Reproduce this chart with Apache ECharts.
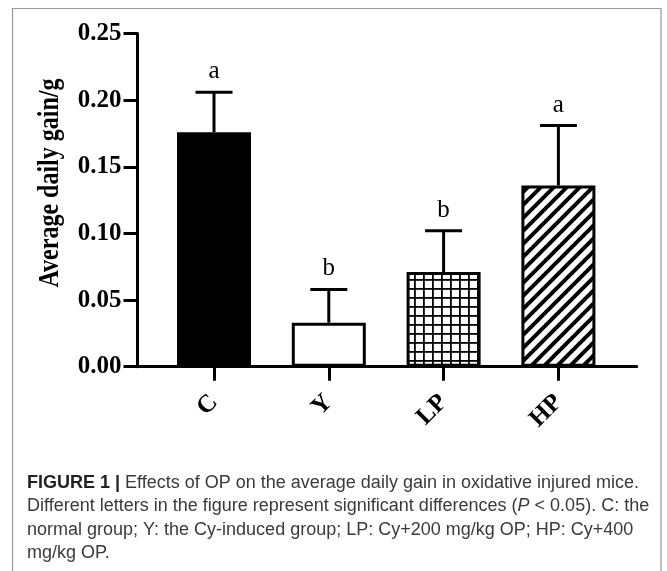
<!DOCTYPE html>
<html>
<head>
<meta charset="utf-8">
<script src="https://cdn.jsdelivr.net/npm/echarts@6/dist/echarts.min.js"></script>
<style>
html,body{margin:0;padding:0;background:#fff;}
#c{width:667px;height:571px;}
</style>
</head>
<body>
<div id="c"></div>
<script>
// ---- data ----
const categories = ['C', 'Y', 'LP', 'HP'];
const means = [0.176, 0.033, 0.071, 0.136];
const sds = [0.030, 0.025, 0.031, 0.045];
const letters = ['a', 'b', 'b', 'a'];
const yMin = 0, yMax = 0.25, yStep = 0.05;
const yTitle = 'Average daily gain/g';
const captionLines = [
  '{b|FIGURE 1 |} Effects of OP on the average daily gain in oxidative injured mice.',
  'Different letters in the figure represent significant differences ({i|P} < 0.05). C: the',
  'normal group; Y: the Cy-induced group; LP: Cy+200 mg/kg OP; HP: Cy+400',
  'mg/kg OP.'
];

// ---- patterns ----
function stripePattern() {
  const s = 13;
  const c = document.createElement('canvas');
  c.width = s; c.height = s;
  const g = c.getContext('2d');
  g.fillStyle = '#fff'; g.fillRect(0, 0, s, s);
  g.strokeStyle = '#000'; g.lineWidth = 4;
  for (const o of [-s, 0, s]) {
    g.beginPath(); g.moveTo(o - 1, s + 1); g.lineTo(o + s + 1, -1); g.stroke();
  }
  return c;
}
function gridPattern() {
  const s = 9;
  const c = document.createElement('canvas');
  c.width = s; c.height = s;
  const g = c.getContext('2d');
  g.fillStyle = '#fff'; g.fillRect(0, 0, s, s);
  g.fillStyle = '#000';
  g.fillRect(0, 0, 1.8, s);
  g.fillRect(0, 0, s, 1.8);
  return c;
}
const fills = [
  '#000',
  '#fff',
  { image: gridPattern(), repeat: 'repeat' },
  { image: stripePattern(), repeat: 'repeat' }
];

const serif = '"Liberation Serif", "Times New Roman", serif';
const sans = '"Liberation Sans", Arial, sans-serif';
const chart = echarts.init(document.getElementById('c'));

const option = {
  backgroundColor: '#fff',
  animation: false,
  grid: [
    { left: 137.5, right: 30.3, top: 33.5, bottom: 204.3 },
    { left: 156.6, width: 459.2, top: 33.5, bottom: 204.3 }
  ],
  xAxis: [
    {
      gridIndex: 0, type: 'value', min: 0, max: 1,
      axisLine: { show: true, lineStyle: { color: '#000', width: 3 } },
      axisTick: { show: false }, axisLabel: { show: false }, splitLine: { show: false }
    },
    {
      gridIndex: 1, type: 'category', data: categories,
      axisLine: { show: false },
      axisTick: { show: true, alignWithLabel: true, length: 14, lineStyle: { color: '#000', width: 3 } },
      axisLabel: { rotate: 45, margin: 32, color: '#000', fontSize: 25, fontWeight: 'bold', fontFamily: serif }
    }
  ],
  yAxis: [
    {
      gridIndex: 0, type: 'value', min: yMin, max: yMax, interval: yStep,
      axisLine: { show: true, lineStyle: { color: '#000', width: 3 } },
      axisTick: { show: true, length: 14, lineStyle: { color: '#000', width: 3 } },
      axisLabel: {
        margin: 16, color: '#000', fontSize: 25, fontWeight: 'bold', fontFamily: serif,
        formatter: v => v.toFixed(2)
      },
      splitLine: { show: false }
    },
    {
      gridIndex: 1, type: 'value', min: yMin, max: yMax, interval: yStep, show: false
    }
  ],
  graphic: [
    {
      type: 'rect', silent: true, z: -1,
      shape: { x: 12.5, y: 8.5, width: 648.5, height: 620 },
      style: { fill: 'none', stroke: '#999', lineWidth: 1.2 }
    },
    {
      type: 'text', x: 51, y: 183, rotation: Math.PI / 2, scaleY: 1.2,
      style: {
        text: yTitle, x: 0, y: 0, align: 'center', verticalAlign: 'middle',
        font: 'bold 24px ' + serif, fill: '#000'
      }
    }
  ].concat(captionLines.map((t, k) => ({
    type: 'text', x: 27, y: 483 + k * 23.4,
    style: {
      text: t, x: 0, y: 0, align: 'left', verticalAlign: 'middle',
      fontSize: 18, fontFamily: sans, fill: '#3a3a3a',
      rich: {
        b: { fontSize: 18, fontWeight: 'bold', fontFamily: sans, fill: '#222' },
        i: { fontSize: 18, fontStyle: 'italic', fontFamily: sans, fill: '#3a3a3a' }
      }
    }
  }))),
  series: [
    {
      type: 'bar', xAxisIndex: 1, yAxisIndex: 1, barWidth: 74,
      data: means.map((v, i) => ({
        value: v,
        itemStyle: { color: fills[i], borderColor: '#000', borderWidth: 3 }
      }))
    },
    {
      type: 'custom', xAxisIndex: 1, yAxisIndex: 1, z: 5,
      data: means.map((v, i) => [i, v, v + sds[i]]),
      renderItem: function (params, api) {
        const i = api.value(0);
        const p0 = api.coord([i, api.value(1)]);
        const p1 = api.coord([i, api.value(2)]);
        const half = 18.5;
        return {
          type: 'group',
          children: [
            { type: 'line', shape: { x1: p0[0], y1: p0[1], x2: p1[0], y2: p1[1] }, style: { stroke: '#000', lineWidth: 3 } },
            { type: 'line', shape: { x1: p1[0] - half, y1: p1[1], x2: p1[0] + half, y2: p1[1] }, style: { stroke: '#000', lineWidth: 3 } },
            { type: 'text', style: { text: letters[i], x: p1[0], y: p1[1] - 8, align: 'center', verticalAlign: 'bottom', font: '25px ' + serif, fill: '#000' } }
          ]
        };
      }
    }
  ]
};
chart.setOption(option);
</script>
</body>
</html>
